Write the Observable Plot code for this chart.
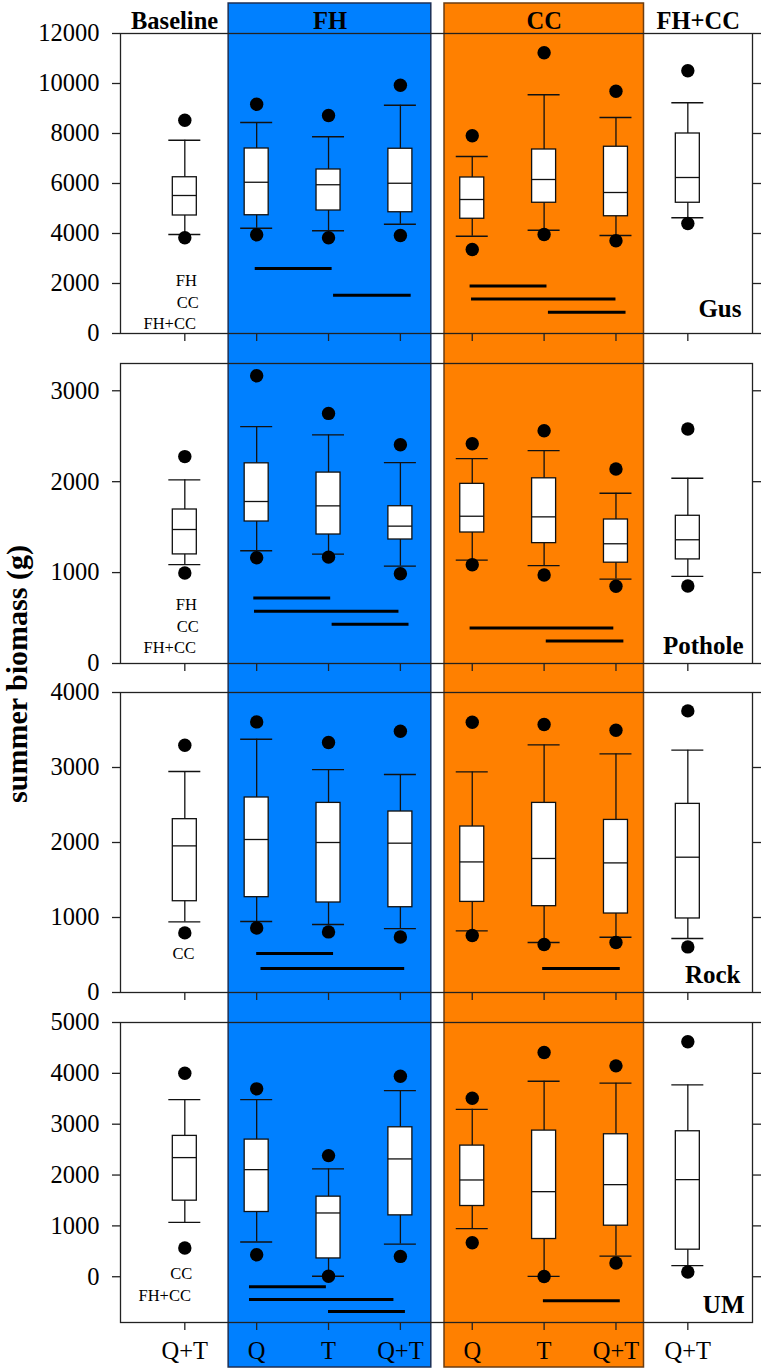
<!DOCTYPE html>
<html><head><meta charset="utf-8">
<script src="https://cdn.jsdelivr.net/npm/d3@7"></script>
<script src="https://cdn.jsdelivr.net/npm/@observablehq/plot@0.6"></script>
<style>
body{margin:0;background:#fff;}
#chart{position:relative;width:765px;height:1371px;font-family:"Liberation Serif","Times New Roman",serif;}
#chart svg{display:block;}
#chart svg text{font-family:"Liberation Serif","Times New Roman",serif !important;font-variant:normal !important;}
#ylab{position:absolute;left:17px;top:674px;transform:translate(-50%,-50%) rotate(-90deg);font-weight:bold;font-size:30px;white-space:nowrap;color:#000;}
</style></head><body><div id="chart"><div id="ylab">summer biomass (g)</div></div>
<script>
// ---- categories / labels ----
const positions = [1, 2, 3, 4, 5, 6, 7, 8];
const tickLabels = ["Q+T", "Q", "T", "Q+T", "Q", "T", "Q+T", "Q+T"];
const groupNames = ["Baseline", "FH", "CC", "FH+CC"];
const siteNames = ["Gus", "Pothole", "Rock", "UM"];

// ---- box statistics per site: [lowDot, lowWhisker, Q1, median, Q3, highWhisker, highDot] ----
const gus = [
  [3830, 3960, 4720, 5520, 6250, 7730, 8530],
  [3950, 4210, 4730, 6050, 7400, 8440, 9170],
  [3830, 4110, 4920, 5950, 6560, 7870, 8720],
  [3920, 4370, 4850, 6010, 7390, 9130, 9930],
  [3360, 3890, 4590, 5360, 6240, 7080, 7910],
  [3960, 4130, 5230, 6160, 7360, 9550, 11230],
  [3710, 3920, 4690, 5640, 7470, 8640, 9690],
  [4400, 4630, 5230, 6240, 8000, 9230, 10510]
];
const pothole = [
  [995, 1087, 1200, 1474, 1694, 2020, 2276],
  [1164, 1240, 1562, 1782, 2202, 2605, 3165],
  [1170, 1203, 1419, 1734, 2100, 2514, 2751],
  [988, 1071, 1364, 1511, 1730, 2210, 2407],
  [1087, 1137, 1441, 1620, 1976, 2254, 2418],
  [973, 1076, 1324, 1613, 2037, 2341, 2561],
  [849, 929, 1109, 1317, 1584, 1873, 2140],
  [852, 958, 1145, 1361, 1625, 2038, 2580]
];
const rock = [
  [795, 941, 1217, 1955, 2311, 2947, 3297],
  [861, 947, 1271, 2040, 2600, 3377, 3608],
  [808, 907, 1200, 2000, 2528, 2973, 3333],
  [741, 853, 1137, 1991, 2413, 2907, 3484],
  [760, 821, 1208, 1741, 2213, 2941, 3604],
  [640, 667, 1151, 1787, 2528, 3301, 3573],
  [667, 737, 1053, 1728, 2301, 3181, 3497],
  [608, 720, 987, 1804, 2515, 3231, 3755]
];
const um = [
  [565, 1069, 1496, 2343, 2770, 3484, 4002],
  [433, 683, 1273, 2106, 2697, 3484, 3695],
  [10, 10, 360, 1254, 1575, 2120, 2382],
  [400, 643, 1207, 2317, 2939, 3661, 3943],
  [669, 945, 1391, 1903, 2579, 3293, 3510],
  [6, 6, 742, 1673, 2874, 3845, 4409],
  [269, 407, 1004, 1811, 2802, 3806, 4147],
  [92, 217, 532, 1910, 2861, 3773, 4620]
];

// ---- significance lines: [from position, to position, value] ----
const gusLines = [[1.98, 3.05, 2600], [3.07, 4.15, 1530], [4.97, 6.04, 1900], [4.99, 7.0, 1380], [6.06, 7.14, 850]];
const potholeLines = [[1.96, 3.03, 721], [1.97, 3.98, 575], [3.05, 4.12, 432], [4.97, 6.97, 391], [6.03, 7.11, 248]];
const rockLines = [[2.0, 3.07, 520], [2.06, 4.06, 320], [5.98, 7.06, 320]];
const umLines = [[1.9, 2.97, -197], [1.9, 3.91, -446], [3.0, 4.07, -683], [5.99, 7.06, -472]];

// ---- small notes in baseline column: [text, position, value] ----
const gusNotes = [["FH", 1.02, 2130], ["CC", 1.04, 1250], ["FH+CC", 0.79, 400]];
const potholeNotes = [["FH", 1.02, 644], ["CC", 1.04, 402], ["FH+CC", 0.79, 174]];
const rockNotes = [["CC", 0.98, 511]];
const umNotes = [["CC", 0.95, 65], ["FH+CC", 0.72, -374]];

// ---- y domains / ticks ----
const gusDomain = [0, 12000], gusTicks = [0, 2000, 4000, 6000, 8000, 10000, 12000];
const potholeDomain = [0, 3300], potholeTicks = [0, 1000, 2000, 3000];
const rockDomain = [0, 4000], rockTicks = [0, 1000, 2000, 3000, 4000];
const umDomain = [-900, 5000], umTicks = [0, 1000, 2000, 3000, 4000, 5000];

// ---------------------------------------------------------------
const serif = "'Liberation Serif','Times New Roman',serif";
const xDomain = [0.105, 8.9];
const blue = {x1: 2 - 0.39, x2: 4 + 0.43, fill: "#0080ff", stroke: "#1c2f55"};
const orange = {x1: 5 - 0.386, x2: 7 + 0.39, fill: "#ff8000", stroke: "#6b3d12"};
const bands = [blue, orange];
const headers = [
  {x: (xDomain[0] + blue.x1) / 2, t: groupNames[0]},
  {x: (blue.x1 + blue.x2) / 2, t: groupNames[1]},
  {x: (orange.x1 + orange.x2) / 2, t: groupNames[2]},
  {x: (orange.x2 + xDomain[1]) / 2, t: groupNames[3]}
];

const panels = [
  {name: siteNames[0], stats: gus, lines: gusLines, notes: gusNotes, domain: gusDomain, ticks: gusTicks,
   mt: 33, mb: 15, extTop: 30, extBot: 25, ldx: -11, ldy: -17},
  {name: siteNames[1], stats: pothole, lines: potholeLines, notes: potholeNotes, domain: potholeDomain, ticks: potholeTicks,
   mt: 15, mb: 15, extTop: 25, extBot: 25, ldx: -9, ldy: -10},
  {name: siteNames[2], stats: rock, lines: rockLines, notes: rockNotes, domain: rockDomain, ticks: rockTicks,
   mt: 14, mb: 15, extTop: 25, extBot: 25, ldx: -12, ldy: -10},
  {name: siteNames[3], stats: um, lines: umLines, notes: umNotes, domain: umDomain, ticks: umTicks,
   mt: 15, mb: 49, extTop: 25, extBot: 45, ldx: -8, ldy: -10}
];

const ink = "#111";
const chart = document.getElementById("chart");

panels.forEach((P, k) => {
  const boxes = P.stats.map((s, i) => ({
    p: positions[i], lowDot: s[0], lowCap: s[1], q1: s[2], med: s[3], q3: s[4], highCap: s[5], highDot: s[6]
  }));
  const lines = P.lines.map(d => ({x1: d[0], x2: d[1], y: d[2]}));
  const notes = P.notes.map(d => ({t: d[0], x: d[1], y: d[2]}));
  const last = k === panels.length - 1;
  const marks = [
    Plot.rect(bands, {x1: "x1", x2: "x2", fill: "fill", stroke: "stroke", strokeWidth: 1.5,
      insetTop: -P.extTop, insetBottom: -P.extBot}),
    Plot.frame({stroke: "#222", strokeWidth: 1.3}),
    Plot.axisY({ticks: P.ticks, tickSize: 8, tickPadding: 13, tickFormat: "d", fontSize: 24.5, fontFamily: serif, fontVariant: "normal",
      label: null, stroke: "#222", strokeWidth: 1.3}),
    Plot.axisY({ticks: P.ticks, anchor: "right", tickSize: 8, tickFormat: () => "", label: null, stroke: "#222", strokeWidth: 1.3}),
    Plot.axisX({ticks: positions, tickSize: 8, tickPadding: 11, fontSize: 24.5, fontFamily: serif, fontVariant: "normal",
      label: null, stroke: "#222", strokeWidth: 1.3,
      tickFormat: last ? (d => tickLabels[d - 1]) : (() => "")}),
    Plot.ruleX(boxes, {x: "p", y1: "lowCap", y2: "highCap", stroke: ink, strokeWidth: 1.3}),
    Plot.rect(boxes, {x1: "p", x2: "p", y1: "q1", y2: "q3", insetLeft: -12, insetRight: -12, fill: "white", stroke: ink, strokeWidth: 1.3}),
    Plot.ruleY(boxes, {x1: "p", x2: "p", y: "med", insetLeft: -12, insetRight: -12, stroke: ink, strokeWidth: 1.3}),
    Plot.ruleY(boxes, {x1: "p", x2: "p", y: "lowCap", insetLeft: -16, insetRight: -16, stroke: ink, strokeWidth: 1.3}),
    Plot.ruleY(boxes, {x1: "p", x2: "p", y: "highCap", insetLeft: -16, insetRight: -16, stroke: ink, strokeWidth: 1.3}),
    Plot.dot(boxes, {x: "p", y: "lowDot", r: 6.7, fill: "#000"}),
    Plot.dot(boxes, {x: "p", y: "highDot", r: 6.7, fill: "#000"}),
    Plot.ruleY(lines, {x1: "x1", x2: "x2", y: "y", stroke: "#000", strokeWidth: 3}),
    Plot.text(notes, {x: "x", y: "y", text: "t", fontSize: 16.5, fontFamily: serif, fill: "#000", lineAnchor: "middle"}),
    Plot.text([P.name], {frameAnchor: "bottom-right", dx: P.ldx, dy: P.ldy, lineAnchor: "bottom", textAnchor: "end",
      fontWeight: "bold", fontSize: 25, fontFamily: serif, fill: "#000"})
  ];
  if (k === 0) {
    marks.push(Plot.text(headers, {x: "x", text: "t", frameAnchor: "top", lineAnchor: "bottom", dy: -4.7,
      fontWeight: "bold", fontSize: 24.5, fontFamily: serif, fill: "#000"}));
  }
  const svg = Plot.plot({
    width: 765,
    height: P.mt + 300 + P.mb,
    marginTop: P.mt, marginBottom: P.mb, marginLeft: 120, marginRight: 13,
    x: {type: "linear", domain: xDomain},
    y: {domain: P.domain},
    style: {fontFamily: serif, overflow: "hidden", background: "transparent", color: "#000"},
    marks
  });
  chart.appendChild(svg);
});
</script>
</body></html>
